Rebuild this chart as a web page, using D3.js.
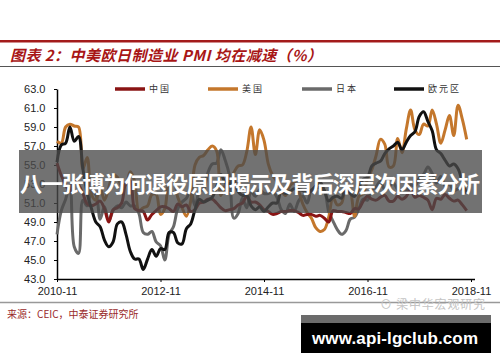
<!DOCTYPE html>
<html>
<head>
<meta charset="utf-8">
<script src="https://cdn.jsdelivr.net/npm/d3@7"></script>
<style>
  body { margin: 0; background: #fff; }
  svg { display: block; }
</style>
</head>
<body>
<div id="chart"></div>
<script>
// months from 2010-11 to 2018-10
let china = [55.2, 53.9,
  52.9, 52.2, 53.4, 52.9, 52.0, 50.9, 50.7, 50.9, 51.2, 50.4, 49.0, 50.3,
  50.5, 51.0, 53.1, 53.3, 50.4, 50.2, 50.1, 49.2, 49.8, 50.2, 50.6, 50.6,
  50.4, 50.1, 50.9, 50.6, 50.8, 50.1, 50.3, 51.0, 51.1, 51.4, 51.4, 51.0,
  50.5, 50.2, 50.3, 50.4, 50.8, 51.0, 51.7, 51.1, 51.1, 50.8, 50.3, 50.1,
  49.8, 49.9, 50.1, 50.1, 50.2, 50.2, 50.0, 49.7, 49.8, 49.8, 49.6, 49.7,
  49.4, 49.0, 50.2, 50.1, 50.1, 50.0, 49.9, 50.4, 50.4, 51.2, 51.7, 51.4,
  51.3, 51.6, 51.8, 51.2, 51.2, 51.7, 51.4, 51.7, 52.4, 51.6, 51.8, 51.6,
  51.3, 50.3, 51.5, 51.4, 51.9, 51.5, 51.2, 51.3, 50.8, 50.2]

let usa = [57.5, 57.3,
  59.0, 59.3, 59.1, 59.0, 54.6, 55.8, 51.9, 51.3, 52.6, 51.3, 52.6, 54.0,
  53.7, 52.8, 53.0, 54.3, 53.3, 50.2, 50.5, 50.7, 51.9, 51.9, 49.8, 50.4,
  53.2, 53.4, 51.6, 50.5, 49.6, 51.2, 55.0, 55.8, 56.0, 56.6, 57.0, 56.5,
  51.8, 52.9, 53.4, 54.2, 54.9, 55.0, 56.4, 59.0, 56.1, 58.7, 57.6, 55.1,
  53.9, 53.3, 52.3, 51.8, 52.8, 53.1, 52.3, 50.9, 50.0, 49.4, 48.4, 48.0,
  48.2, 49.5, 51.6, 50.8, 51.0, 52.8, 52.3, 49.6, 51.7, 52.0, 53.5, 54.5,
  56.0, 57.7, 57.2, 54.8, 54.9, 57.8, 56.3, 58.8, 60.8, 58.7, 58.2, 59.3,
  59.1, 60.8, 59.3, 57.3, 58.7, 60.2, 58.1, 61.3, 59.8, 57.7]

let japan = [47.7, 50.2,
  51.4, 52.9, 46.4, 45.7, 51.3, 50.7, 52.1, 51.9, 49.3, 50.6, 49.1, 50.2,
  50.7, 50.5, 51.1, 50.7, 50.7, 49.9, 47.9, 47.7, 48.0, 46.9, 46.5, 45.0,
  47.7, 48.5, 50.4, 51.1, 51.5, 52.3, 50.7, 52.2, 52.5, 54.2, 55.1, 55.2,
  56.6, 55.5, 53.9, 49.4, 49.9, 51.5, 50.5, 52.2, 51.7, 52.4, 52.0, 52.0,
  52.2, 51.6, 50.3, 49.9, 50.9, 50.1, 51.2, 51.7, 51.0, 52.4, 52.6, 52.6,
  52.3, 50.1, 49.1, 48.2, 47.7, 48.1, 49.3, 49.5, 50.4, 51.4, 51.3, 52.4,
  52.7, 53.3, 52.4, 52.7, 53.1, 52.4, 52.1, 52.2, 52.9, 52.8, 53.6, 54.0,
  54.8, 54.1, 53.1, 53.8, 52.8, 53.0, 52.3, 52.5, 52.5, 52.9]

let euro = [55.3, 57.1,
  57.3, 59.0, 57.5, 58.0, 54.6, 52.0, 50.4, 49.0, 48.5, 47.1, 46.4, 46.9,
  48.8, 49.0, 47.7, 45.9, 45.1, 45.1, 44.0, 45.1, 46.1, 45.4, 46.2, 46.1,
  47.9, 47.9, 46.8, 46.7, 48.3, 48.8, 50.3, 51.4, 51.1, 51.3, 51.6, 52.7,
  54.0, 53.2, 53.0, 53.4, 52.2, 51.8, 51.8, 50.7, 50.3, 50.6, 50.1, 50.6,
  51.0, 51.0, 52.2, 52.0, 52.2, 52.5, 52.4, 52.3, 52.0, 52.3, 52.8, 53.2,
  52.3, 51.2, 51.6, 51.7, 51.5, 52.8, 52.0, 51.7, 52.6, 53.5, 53.7, 54.9,
  55.2, 55.4, 56.2, 56.7, 57.0, 57.4, 56.6, 57.4, 58.1, 58.5, 60.1, 60.6,
  59.6, 58.6, 56.6, 56.2, 55.5, 54.9, 55.1, 54.6, 53.2, 52.0]

let tickIndex = [0, 24, 48, 72, 96]
let tickLabels = ["2010-11", "2012-11", "2014-11", "2016-11", "2018-11"]
let yTicks = [43, 45, 47, 49, 51, 53, 55, 57, 59, 61, 63]

let seriesNames = ["中国", "美国", "日本", "欧元区"]
let seriesColors = ["#8a1414", "#c4772c", "#6a6a6a", "#111111"]
let seriesData = [china, usa, japan, euro]

let width = 500
let height = 362

let svg = d3.select("#chart")
  .append("svg")
  .attr("width", width)
  .attr("height", height)

let cjk = "'Noto Sans CJK SC', sans-serif"
let latin = "'Liberation Sans', Arial, sans-serif"

// title block
svg.append("rect")
  .attr("x", 0).attr("y", 40)
  .attr("width", width).attr("height", 2.5)
  .attr("fill", "#a31b1b")

svg.append("text")
  .attr("x", 10)
  .attr("y", 61)
  .attr("fill", "#a81616")
  .style("font", `italic bold 15px ${cjk}`)
  .attr("textLength", 312)
  .text("图表 2：中美欧日制造业 PMI 均在减速（%）")

svg.append("line")
  .attr("x1", 0).attr("x2", width)
  .attr("y1", 66.5).attr("y2", 66.5)
  .attr("stroke", "#555")
  .attr("stroke-width", 1)

let x = d3.scaleLinear()
  .domain([0, 96])
  .range([57, 471])

let y = d3.scaleLinear()
  .domain([43, 63])
  .range([279, 89])

let xAxis = g => g
  .attr("transform", `translate(0,${y(43)})`)
  .call(d3.axisBottom(x)
    .tickValues(tickIndex)
    .tickFormat((d, i) => tickLabels[i])
    .tickSize(3)
    .tickSizeOuter(0))
  .call(g => g.select(".domain").attr("d", `M${x(0)},0.5H475`).attr("stroke-width", 1.5))
  .call(g => g.selectAll("text").attr("dy", "0.95em"))

let yAxis = g => g
  .attr("transform", `translate(${x(0)},0)`)
  .call(d3.axisLeft(y)
    .tickValues(yTicks)
    .tickFormat(d3.format(".1f"))
    .tickSize(3)
    .tickSizeOuter(0))
  .call(g => g.select(".domain").attr("stroke-width", 1.5))
  .call(g => g.selectAll("text").attr("dx", "-0.5em"))

svg.append("g")
  .style("font", `11px ${latin}`)
  .call(yAxis)
  .selectAll("text").attr("fill", "#222")

svg.append("g")
  .style("font", `11px ${latin}`)
  .call(xAxis)
  .selectAll("text").attr("fill", "#222")

let line = d3.line()
  .x((d, i) => x(i))
  .y(d => y(d))
  .curve(d3.curveCatmullRom.alpha(0.5))

// draw order: japan, usa, china, euro on top
let order = [2, 1, 0, 3]
svg.append("g")
  .selectAll("path")
  .data(order)
  .enter().append("path")
    .attr("d", k => line(seriesData[k]))
    .attr("fill", "none")
    .attr("stroke", k => seriesColors[k])
    .attr("stroke-width", 3)
    .attr("stroke-linejoin", "round")

// legend
let legendX = [115, 208, 302, 394]
let legend = svg.append("g")
  .selectAll("g")
  .data(seriesNames)
  .enter().append("g")
    .attr("transform", (d, i) => `translate(${legendX[i]},89)`)

legend.append("line")
  .attr("x1", 0).attr("x2", 30)
  .attr("stroke", (d, i) => seriesColors[i])
  .attr("stroke-width", 3.5)

legend.append("text")
  .attr("x", 34)
  .attr("dy", "0.35em")
  .attr("fill", "#333")
  .style("font", `9px ${cjk}`)
  .style("letter-spacing", "2px")
  .text(d => d)

// footer
svg.append("line")
  .attr("x1", 0).attr("x2", width)
  .attr("y1", 302.5).attr("y2", 302.5)
  .attr("stroke", "#999")
  .attr("stroke-width", 1.5)

svg.append("text")
  .attr("x", 7)
  .attr("y", 318)
  .attr("fill", "#9a2a2a")
  .style("font", `10px ${cjk}`)
  .text("来源：CEIC，中泰证券研究所")

svg.append("text")
  .attr("x", 380)
  .attr("y", 309)
  .attr("fill", "#c4c4c4")
  .style("font", `12px ${cjk}`)
  .attr("textLength", 105)
  .text("⊙ 梁中华宏观研究")

// overlay banner
svg.append("rect")
  .attr("x", 19).attr("y", 150)
  .attr("width", 463).attr("height", 63)
  .attr("fill", "#4a4a4a")
  .attr("opacity", 0.78)

svg.append("text")
  .attr("x", 20)
  .attr("y", 192)
  .attr("fill", "#fff")
  .style("font", `bold 22px ${cjk}`)
  .attr("textLength", 460)
  .text("八一张博为何退役原因揭示及背后深层次因素分析")

// site box
svg.append("rect")
  .attr("x", 301).attr("y", 315)
  .attr("width", 190).attr("height", 38)
  .attr("fill", "#000")

svg.append("rect")
  .attr("x", 301).attr("y", 315)
  .attr("width", 190).attr("height", 8)
  .attr("fill", "#6b6b6b")

svg.append("text")
  .attr("x", 312)
  .attr("y", 344)
  .attr("fill", "#fff")
  .style("font", `bold 17px ${latin}`)
  .attr("textLength", 166)
  .text("www.api-lgclub.com")
</script>
</body>
</html>
